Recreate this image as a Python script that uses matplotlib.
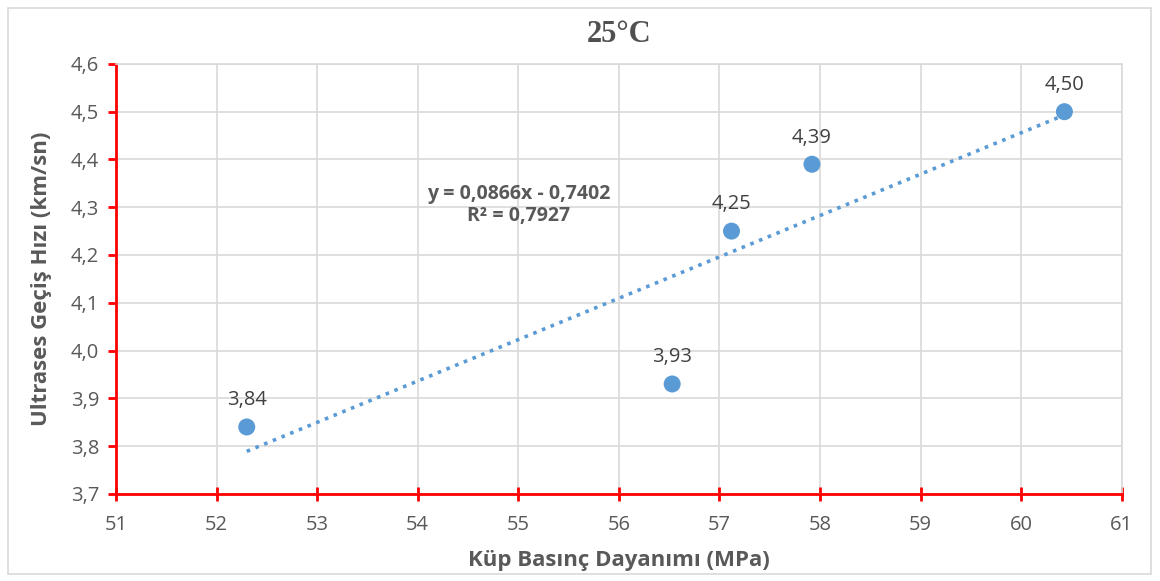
import numpy as np
import matplotlib
matplotlib.use("Agg")
import matplotlib.pyplot as plt
from matplotlib.patches import Rectangle

# compressive strength (MPa) vs ultrasonic pulse velocity (km/s)
strength = [52.30, 56.53, 57.12, 57.92, 60.43]
velocity = [3.84, 3.93, 4.25, 4.39, 4.50]
trend_slope = 0.0866
trend_intercept = -0.7402
r_squared = 0.7927

x_ticks = list(range(51, 62))
y_ticks = [3.7, 3.8, 3.9, 4.0, 4.1, 4.2, 4.3, 4.4, 4.5, 4.6]

BLUE = "#5B9BD5"
GRAY_TXT = "#595959"
GRID = "#D9D9D9"
RED = "#FF0000"

plt.rcParams["font.family"] = ["Open Sans", "DejaVu Sans"]

fig = plt.figure(figsize=(11.6, 5.81), dpi=100)
ax = fig.add_axes([0.1, 0.15, 0.867, 0.74])

# chart-area border
fig.patches.append(Rectangle((0.007, 0.012), 0.985, 0.975, transform=fig.transFigure,
                             fill=False, edgecolor=GRID, linewidth=1.2))

ax.set_xlim(51, 61)
ax.set_ylim(3.7, 4.6)
ax.set_xticks(x_ticks)
ax.set_yticks(y_ticks)
ax.set_xticklabels([str(v) for v in x_ticks])
ax.set_yticklabels([f"{v:.1f}".replace(".", ",") for v in y_ticks])
ax.grid(True, color=GRID, linewidth=1.2)
ax.set_axisbelow(True)

for side in ["top", "right"]:
    ax.spines[side].set_color(GRID)
    ax.spines[side].set_linewidth(1.2)
for side in ["left", "bottom"]:
    ax.spines[side].set_color(RED)
    ax.spines[side].set_linewidth(2)
ax.tick_params(axis="both", colors=RED, width=2, length=6, labelsize=14.5,
               labelcolor=GRAY_TXT)
ax.tick_params(axis="x", direction="inout", length=10, pad=10)
ax.tick_params(axis="y", direction="out", length=6, pad=6)

# linear trendline over the data range
tx = np.array([min(strength), max(strength)])
ty = trend_slope * tx + trend_intercept
ax.plot(tx, ty, linestyle=(0, (1, 1.6)), color=BLUE, linewidth=2.6, zorder=2)

ax.scatter(strength, velocity, s=150, color=BLUE, zorder=3, edgecolors="none")
for x, y in zip(strength, velocity):
    ax.annotate(f"{y:.2f}".replace(".", ","), (x, y), xytext=(0, 12),
                textcoords="offset points", ha="center", va="bottom",
                fontsize=14.5, color="#404040")

eq = f"y = {trend_slope:.4f}x - {abs(trend_intercept):.4f}".replace(".", ",")
r2 = f"R² = {r_squared:.4f}".replace(".", ",")
ax.text(55.0, 4.305, eq + "\n" + r2, ha="center", va="center", fontsize=14,
        fontweight="bold", color=GRAY_TXT, linespacing=1.15)

ax.set_title("25°C", fontsize=22, fontweight="bold", color="#505050",
             family=["Liberation Serif", "DejaVu Serif"], pad=16)
ax.set_xlabel("Küp Basınç Dayanımı (MPa)", fontsize=16, fontweight="bold",
              color=GRAY_TXT, labelpad=11)
ax.set_ylabel("Ultrases Geçiş Hızı (km/sn)", fontsize=16, fontweight="bold",
              color=GRAY_TXT, labelpad=14)

fig.savefig("out.png", dpi=100)
